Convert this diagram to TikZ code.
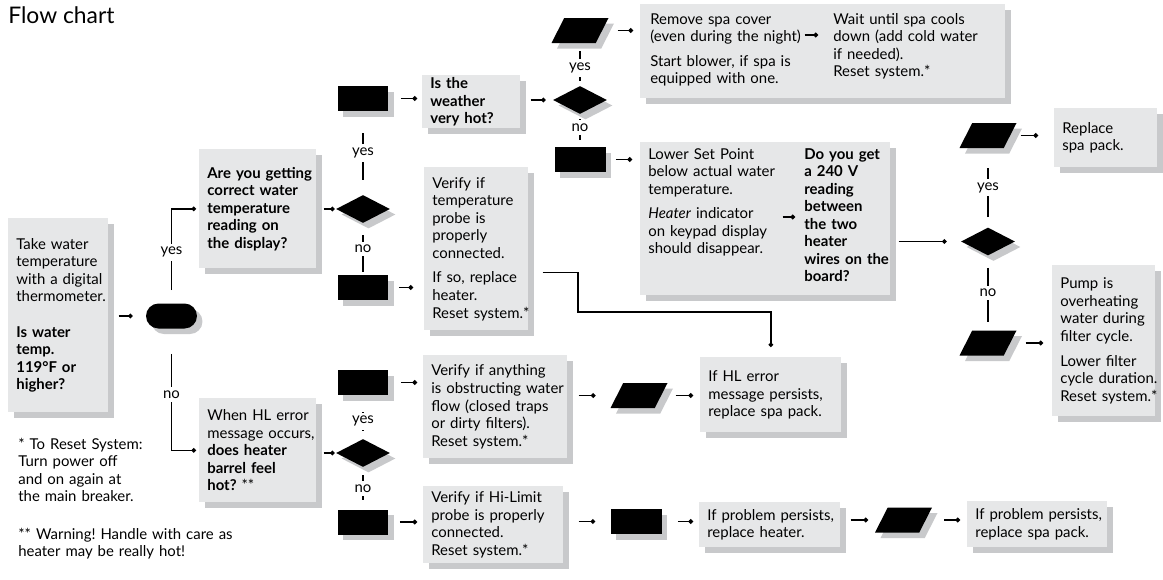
\documentclass[tikz,border=0pt]{standalone}
\usepackage{fontspec}
\setmainfont{Lato}
\usetikzlibrary{arrows.meta, shapes.geometric, shapes.misc, shadows}

\definecolor{boxgray}{HTML}{E6E7E8}
\definecolor{shadowgray}{HTML}{C8C9CB}
\newcommand{\bodyfont}{\fontsize{8.5}{10}\selectfont}
\frenchspacing

\begin{document}
\begin{tikzpicture}[x=0.02cm, y=-0.02cm,
    boxshadow/.style={drop shadow={shadow xshift=0.11cm, shadow yshift=-0.11cm, fill=shadowgray, opacity=1}},
    ragged/.style={align=left, font=\bodyfont, execute at begin node={\rightskip=-1cm plus 1fil\relax}},
    txt/.style={ragged, anchor=base west, inner sep=0pt},
    gbox/.style 2 args={boxshadow, fill=boxgray, ragged, anchor=north west, inner sep=0pt,
      text width=#1, minimum height=#2,
      execute at begin node={\leftskip=0.16cm\rightskip=-0.4cm plus 1fil\relax}},
    blk/.style={boxshadow, fill=black, inner sep=0pt},
    rblk/.style={blk, rectangle, minimum width=1.02cm, minimum height=0.5cm},
    oblk/.style={blk, rounded rectangle, minimum width=1.02cm, minimum height=0.5cm},
    dblk/.style={blk, diamond, minimum width=1.08cm, minimum height=0.56cm},
    pblk/.style={blk, trapezium, trapezium left angle=68, trapezium right angle=112,
      trapezium stretches=true, inner sep=1pt, minimum width=1.14cm, minimum height=0.5cm},
    link/.style={line width=0.75pt, -{Circle[length=2.6pt]}, shorten <=0.2cm, shorten >=0.14cm},
    branch/.style={line width=0.75pt},
    lbl/.style={fill=white, inner sep=2pt, font=\bodyfont}]

    \useasboundingbox (0,0) rectangle (1163,579);

    % Title and start
    \node[anchor=base west, inner sep=0pt, font=\fontsize{13}{15}\selectfont] (title) at (8,23) {Flow chart};
    \node[gbox={2.0cm}{3.88cm}] (start) at (8,218) {Take water\\temperature\\with a digital\\thermometer.\\[10pt]{\bfseries Is water\\temp.\\119°F or\\higher?}};
    \node[oblk] (pill) at (171.5,316) {};

    % Upper branch
    \node[gbox={2.34cm}{2.38cm}] (q1) at (199,149) {\bfseries Are you getting\\correct water\\temperature\\reading on\\the display?};
    \node[dblk] (d1) at (363,209) {};
    \node[rblk] (r1) at (363,98.5) {};
    \node[rblk] (r2) at (363,287.5) {};
    \node[gbox={1.96cm}{1.06cm}] (weather) at (422,75) {\bfseries Is the\\weather\\very hot?};
    \node[gbox={2.08cm}{3.26cm}] (probe) at (424,167) {Verify if\\temperature\\probe is\\properly\\connected.\\[4pt]If so, replace\\heater.\\Reset system.*};

    % Hot weather
    \node[dblk] (d2) at (580,100) {};
    \node[pblk] (p1) at (580,30.5) {};
    \node[rblk] (r3) at (580,159.5) {};
    \node[gbox={7.3cm}{1.88cm}] (tbox) at (640,4) {};
    \node[txt, text width=3cm] (remove) at (650,24) {Remove spa cover\\(even during the night)\\[4pt]Start blower, if spa is\\equipped with one.};
    \node[txt, text width=3.2cm] (wait) at (833,24) {Wait until spa cools\\down (add cold water\\if needed).\\Reset system.*};
    \node[gbox={5.0cm}{3.06cm}] (sbox) at (640,142) {};
    \node[txt, text width=2.6cm] (lower) at (648,159) {Lower Set Point\\below actual water\\temperature.\\[4pt]\textit{Heater} indicator\\on keypad display\\should disappear.};
    \node[txt, text width=1.7cm] (volt) at (804,159) {\bfseries Do you get\\a 240 V\\reading\\between\\the two\\heater\\wires on the\\board?};

    % Voltage check
    \node[dblk] (d3) at (988,241.5) {};
    \node[pblk] (p2) at (988,135.5) {};
    \node[pblk] (p3) at (988,343) {};
    \node[gbox={2.06cm}{1.18cm}] (pack) at (1054,108) {Replace\\spa pack.};
    \node[gbox={2.06cm}{3.02cm}] (pump) at (1052,265) {Pump is\\overheating\\water during\\filter cycle.\\[4pt]Lower filter\\cycle duration.\\Reset system.*};

    % Lower branch
    \node[gbox={2.34cm}{2.08cm}] (q2) at (199,398) {When HL error\\message occurs,\\{\bfseries does heater\\barrel feel\\hot?} **};
    \node[dblk] (d4) at (363,453) {};
    \node[rblk] (r4) at (363,382.5) {};
    \node[rblk] (r5) at (363,522) {};
    \node[gbox={2.88cm}{2.06cm}] (flow) at (423,355) {Verify if anything\\is obstructing water\\flow (closed traps\\or dirty filters).\\Reset system.*};
    \node[pblk] (p4) at (639,395.5) {};
    \node[gbox={2.82cm}{1.5cm}] (hl) at (700,357) {If HL error\\message persists,\\replace spa pack.};
    \node[gbox={2.8cm}{1.54cm}] (limit) at (423,486) {Verify if Hi-Limit\\probe is properly\\connected.\\Reset system.*};
    \node[rblk] (r6) at (636,521.5) {};
    \node[gbox={2.82cm}{0.9cm}] (heater) at (699,502) {If problem persists,\\replace heater.};
    \node[pblk] (p5) at (903.5,520) {};
    \node[gbox={2.8cm}{0.92cm}] (spa) at (967,501) {If problem persists,\\replace spa pack.};

    % Notes
    \node[txt, text width=4cm] (reset) at (18,449) {* To Reset System:\\Turn power off\\and on again at\\the main breaker.};
    \node[txt, text width=4.5cm] (warn) at (18,539) {** Warning! Handle with care as\\heater may be really hot!};

    % Yes / no branches
    \draw[link, shorten <=0.26cm, shorten >=0.06cm] (pill.north) |- node[lbl, pos=0.27]{yes} (q1.west);
    \draw[link, shorten <=0.5cm, shorten >=0.06cm] (pill.south) |- node[lbl, pos=0.27]{no} (q2.west);
    \draw[branch, shorten <=0.3cm, shorten >=0.44cm] (d1) -- node[lbl]{yes} (r1);
    \draw[branch, shorten <=0.24cm, shorten >=0.06cm] (d1) -- node[lbl]{no} (r2);
    \draw[branch, shorten <=0.1cm, shorten >=0.16cm] (d2) -- node[lbl, pos=0.42]{yes} (p1);
    \draw[branch, shorten <=0.1cm, shorten >=0.14cm] (d2) -- node[lbl, pos=0.4]{no} (r3);
    \draw[branch, shorten <=0.2cm, shorten >=0.4cm] (d3) -- node[lbl]{yes} (p2);
    \draw[branch, shorten <=0.24cm, shorten >=0.16cm] (d3) -- node[lbl]{no} (p3);
    \draw[branch, shorten <=0.16cm, shorten >=0.34cm] (d4) -- node[lbl, pos=0.4]{yes} (r4);
    \draw[branch, shorten <=0.16cm, shorten >=0.18cm] (d4) -- node[lbl]{no} (r5);

    % Connectors
    \draw[link, shorten >=0.26cm] (start.east |- pill) -- (pill);
    \draw[link, shorten <=0.14cm, shorten >=0.02cm] (q1.east |- d1) -- (d1);
    \draw[link, shorten <=0.24cm, shorten >=0.1cm] (r1) -- (r1 -| weather.west);
    \draw[link, shorten >=0.22cm] (r2) -- (r2 -| probe.west);
    \draw[link] (weather.east |- d2) -- (d2);
    \draw[link, shorten <=0.3cm] (p1) -- (p1 -| tbox.west);
    \draw[link, shorten >=0.16cm] (r3) -- (r3 -| sbox.west);
    \draw[link, shorten <=0.08cm, shorten >=0.3cm] ([yshift=-0.22cm]remove.base east) -- ([yshift=-0.22cm]wait.base west);
    \draw[link, shorten <=0.08cm, shorten >=0.18cm] ([yshift=-1.16cm]lower.base east) -- ([yshift=-1.16cm]volt.base west);
    \draw[link, shorten <=0.16cm, shorten >=0.28cm] (d3 -| sbox.east) -- (d3);
    \draw[link, shorten >=0.32cm] (p2) -- (p2 -| pack.west);
    \draw[link, shorten <=0.3cm, shorten >=0.18cm] (p3) -- (p3 -| pump.west);
    \draw[link, shorten <=0.14cm, shorten >=0.02cm] (q2.east |- d4) -- (d4);
    \draw[link, shorten <=0.24cm, shorten >=0.12cm] (r4) -- (r4 -| flow.west);
    \draw[link, shorten <=0.22cm, shorten >=0.12cm] (r5) -- (r5 -| limit.west);
    \draw[link, shorten <=0.22cm, shorten >=0.42cm] (flow.east |- p4) -- (p4);
    \draw[link, shorten <=0.28cm] (p4) -- (p4 -| hl.west);
    \coordinate (bend) at (578,312);
    \draw[link, shorten <=0.28cm, shorten >=0.2cm] ([yshift=-0.47cm]probe.east) -| (bend) -| (hl.north);
    \draw[link, shorten <=0.3cm, shorten >=0.3cm] (limit.east |- r6) -- (r6);
    \draw[link, shorten <=0.32cm, shorten >=0.12cm] (r6) -- (r6 -| heater.west);
    \draw[link, shorten >=0.26cm] (heater.east |- p5) -- (p5);
    \draw[link, shorten <=0.36cm] (p5) -- (p5 -| spa.west);
\end{tikzpicture}
\end{document}
